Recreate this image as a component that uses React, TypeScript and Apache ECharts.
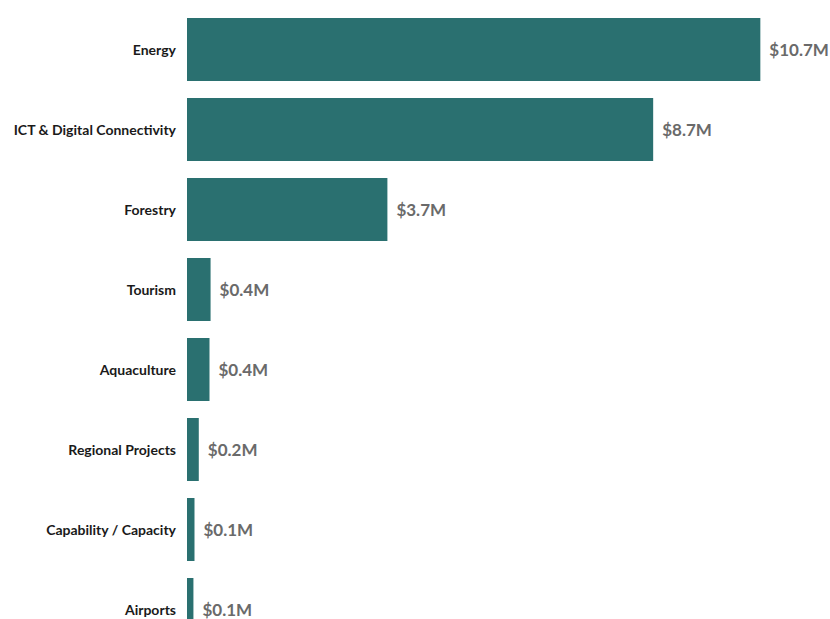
import React, { useEffect, useRef } from "react";
import * as echarts from "echarts";

const categories = [
  "Energy",
  "ICT & Digital Connectivity",
  "Forestry",
  "Tourism",
  "Aquaculture",
  "Regional Projects",
  "Capability / Capacity",
  "Airports",
];
const values = [10.7, 8.7, 3.74, 0.44, 0.42, 0.22, 0.14, 0.12];

export default function App() {
  const ref = useRef<HTMLDivElement>(null);
  useEffect(() => {
    if (!ref.current) return;
    const chart = echarts.init(ref.current, null, { renderer: "svg" });
    chart.setOption({
      animation: false,
      backgroundColor: "#ffffff",
      grid: { left: 187, right: 0, top: 9.5, height: 640, containLabel: false },
      xAxis: {
        type: "value",
        min: 0,
        max: 12,
        show: false,
      },
      yAxis: {
        type: "category",
        data: categories,
        inverse: true,
        axisLine: { show: false },
        axisTick: { show: false },
        splitLine: { show: false },
        axisLabel: {
          color: "#1a1a1a",
          fontFamily: "Lato",
          fontWeight: "bold",
          fontSize: 14,
          margin: 11,
        },
      },
      series: [
        {
          type: "bar",
          data: values,
          barWidth: 63,
          itemStyle: { color: "#2a7070" },
          label: {
            show: true,
            position: "right",
            distance: 9,
            color: "#6a6a6a",
            fontFamily: "Lato",
            fontWeight: "bold",
            fontSize: 17,
            formatter: (p: any) => "$" + Number(p.value).toFixed(1) + "M",
          },
        },
      ],
    });
    return () => chart.dispose();
  }, []);
  return (
    <div
      style={{
        position: "absolute",
        left: 0,
        top: 0,
        width: 830,
        height: 619,
        overflow: "hidden",
        background: "#ffffff",
      }}
    >
      <div ref={ref} style={{ width: 830, height: 660 }} />
    </div>
  );
}
